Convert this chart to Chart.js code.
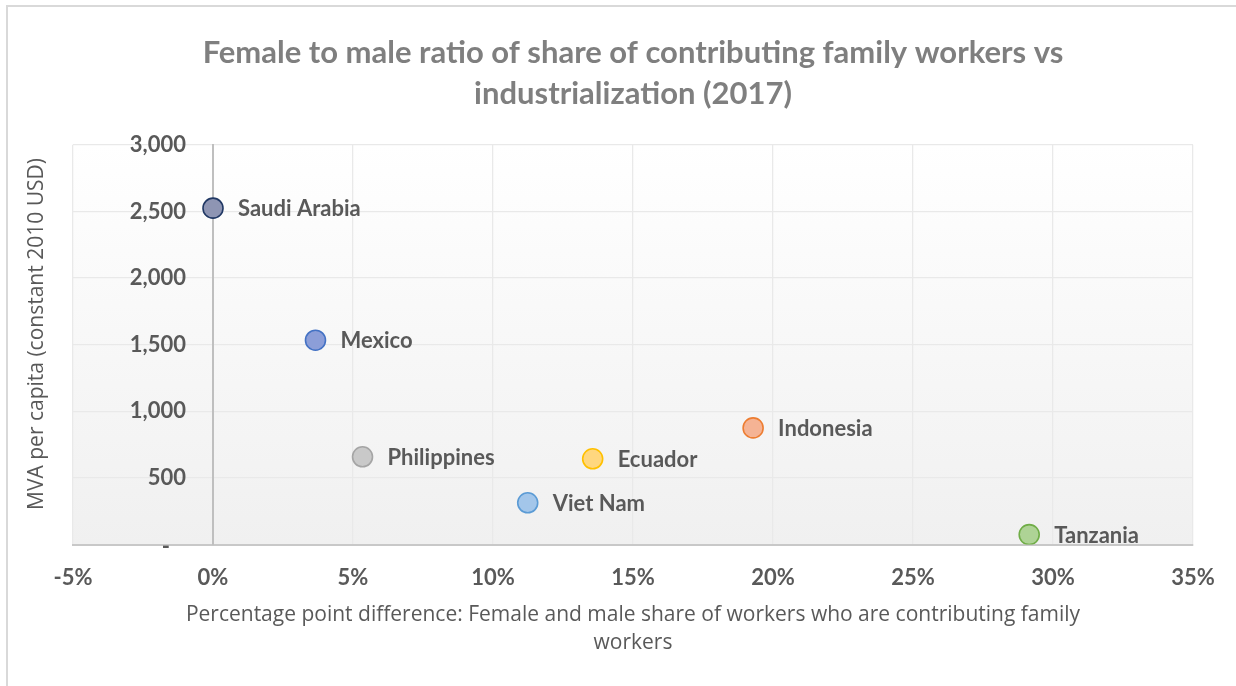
<!DOCTYPE html>
<html>
<head>
<meta charset="utf-8">
<script src="https://cdn.jsdelivr.net/npm/chart.js@4.4.1/dist/chart.umd.min.js"></script>
<style>
  html, body { margin: 0; padding: 0; background: #fff; }
  #wrap { width: 1236px; height: 686px; position: relative; }
</style>
</head>
<body>
<div id="wrap"><canvas id="chart" width="1236" height="686"></canvas></div>
<script>
// data
const countries = ['Saudi Arabia', 'Mexico', 'Philippines', 'Viet Nam', 'Ecuador', 'Indonesia', 'Tanzania'];
const gapValues = [0.000, 0.0366, 0.0534, 0.1124, 0.1356, 0.1929, 0.2915];
const mvaValues = [2525, 1534, 659, 314, 644, 876, 75];
const xTicks = [-0.05, 0, 0.05, 0.10, 0.15, 0.20, 0.25, 0.30, 0.35];
const yTicks = [0, 500, 1000, 1500, 2000, 2500, 3000];

// office-ish palette: fill / border
const fills = ['#8e95b3', '#8c9ed8', '#c9c9c9', '#a3c6ea', '#ffd77f', '#f5b394', '#aed395'];
const borders = ['#203864', '#4472c4', '#a5a5a5', '#5b9bd5', '#ffc000', '#ed7d31', '#70ad47'];

const BOLD_FAMILY = 'Lato, "Open Sans", sans-serif';
const TEXT = '#595959';

// plot background gradient + outer frame
const backdrop = {
  id: 'backdrop',
  beforeDraw(chart) {
    const { ctx, chartArea: a } = chart;
    ctx.save();
    ctx.strokeStyle = '#d9d9d9';
    ctx.lineWidth = 2;
    ctx.beginPath();
    ctx.moveTo(7, 700);
    ctx.lineTo(7, 6);
    ctx.lineTo(1240, 6);
    ctx.stroke();
    const g = ctx.createLinearGradient(0, a.top, 0, a.bottom);
    g.addColorStop(0, '#ffffff');
    g.addColorStop(1, '#f0f0f0');
    ctx.fillStyle = g;
    ctx.fillRect(a.left, a.top, a.right - a.left, a.bottom - a.top);
    ctx.restore();
  }
};

// y tick labels sit left of the axis that crosses at x = 0, and the axis title hugs the frame
const yLabels = {
  id: 'yLabels',
  afterDraw(chart) {
    const { ctx } = chart;
    const xs = chart.scales.x, ys = chart.scales.y;
    const axisX = xs.getPixelForValue(0);
    ctx.save();
    ctx.font = 'bold 22px ' + BOLD_FAMILY;
    ctx.fillStyle = TEXT;
    ctx.textAlign = 'right';
    ctx.textBaseline = 'middle';
    yTicks.forEach(v => {
      const txt = v === 0 ? '-   ' : v.toLocaleString('en-US');
      ctx.fillText(txt, axisX - 27, ys.getPixelForValue(v) + (v === 0 ? 2 : 0));
    });
    ctx.translate(37, 334);
    ctx.rotate(-Math.PI / 2);
    ctx.font = '21px "Open Sans", sans-serif';
    ctx.textAlign = 'center';
    ctx.fillText('MVA per capita (constant 2010 USD)', 0, 0);
    ctx.restore();
  }
};

// country names to the right of each bubble
const pointLabels = {
  id: 'pointLabels',
  afterDatasetsDraw(chart) {
    const { ctx } = chart;
    ctx.save();
    ctx.font = 'bold 22px ' + BOLD_FAMILY;
    ctx.fillStyle = TEXT;
    ctx.textAlign = 'left';
    ctx.textBaseline = 'middle';
    chart.data.datasets.forEach((ds, i) => {
      const el = chart.getDatasetMeta(i).data[0];
      if (el) ctx.fillText(ds.label, el.x + 25, el.y + 1);
    });
    ctx.restore();
  }
};

const datasets = countries.map((name, i) => ({
  label: name,
  data: [{ x: gapValues[i], y: mvaValues[i] }],
  backgroundColor: fills[i],
  borderColor: borders[i],
  borderWidth: 1.6,
  pointRadius: 10,
  pointHoverRadius: 10
}));

new Chart(document.getElementById('chart'), {
  type: 'scatter',
  data: { datasets },
  plugins: [backdrop, pointLabels, yLabels],
  options: {
    responsive: false,
    animation: false,
    layout: { padding: { left: 73, right: 43, top: 33, bottom: 25 } },
    plugins: {
      legend: { display: false },
      tooltip: { enabled: false },
      title: {
        display: true,
        text: ['Female to male ratio of share of contributing family workers vs', 'industrialization (2017)'],
        color: '#7f7f7f',
        font: { family: BOLD_FAMILY, size: 31, weight: 'bold', lineHeight: 1.32 },
        padding: { top: 0, bottom: 30 }
      }
    },
    scales: {
      x: {
        type: 'linear',
        min: -0.05,
        max: 0.35,
        afterBuildTicks: s => { s.ticks = xTicks.map(v => ({ value: v })); },
        grid: { color: '#e9e9e9', lineWidth: 1.3, drawTicks: false },
        border: { color: '#c8c8c8', width: 2 },
        ticks: {
          padding: 20,
          color: TEXT,
          font: { family: BOLD_FAMILY, size: 22, weight: 'bold' },
          callback: v => Math.round(v * 100) + '%'
        },
        title: {
          display: true,
          text: ['Percentage point difference: Female and male share of workers who are contributing family', 'workers'],
          color: TEXT,
          font: { family: '"Open Sans", sans-serif', size: 21, lineHeight: 1.333 },
          padding: { top: -10 }
        }
      },
      y: {
        type: 'linear',
        position: { x: 0 },
        min: 0,
        max: 3000,
        afterBuildTicks: s => { s.ticks = yTicks.map(v => ({ value: v })); },
        grid: { color: '#e9e9e9', lineWidth: 1.3, drawTicks: false },
        border: { color: '#bfbfbf', width: 2 },
        ticks: { display: false }
      }
    }
  }
});
</script>
</body>
</html>
